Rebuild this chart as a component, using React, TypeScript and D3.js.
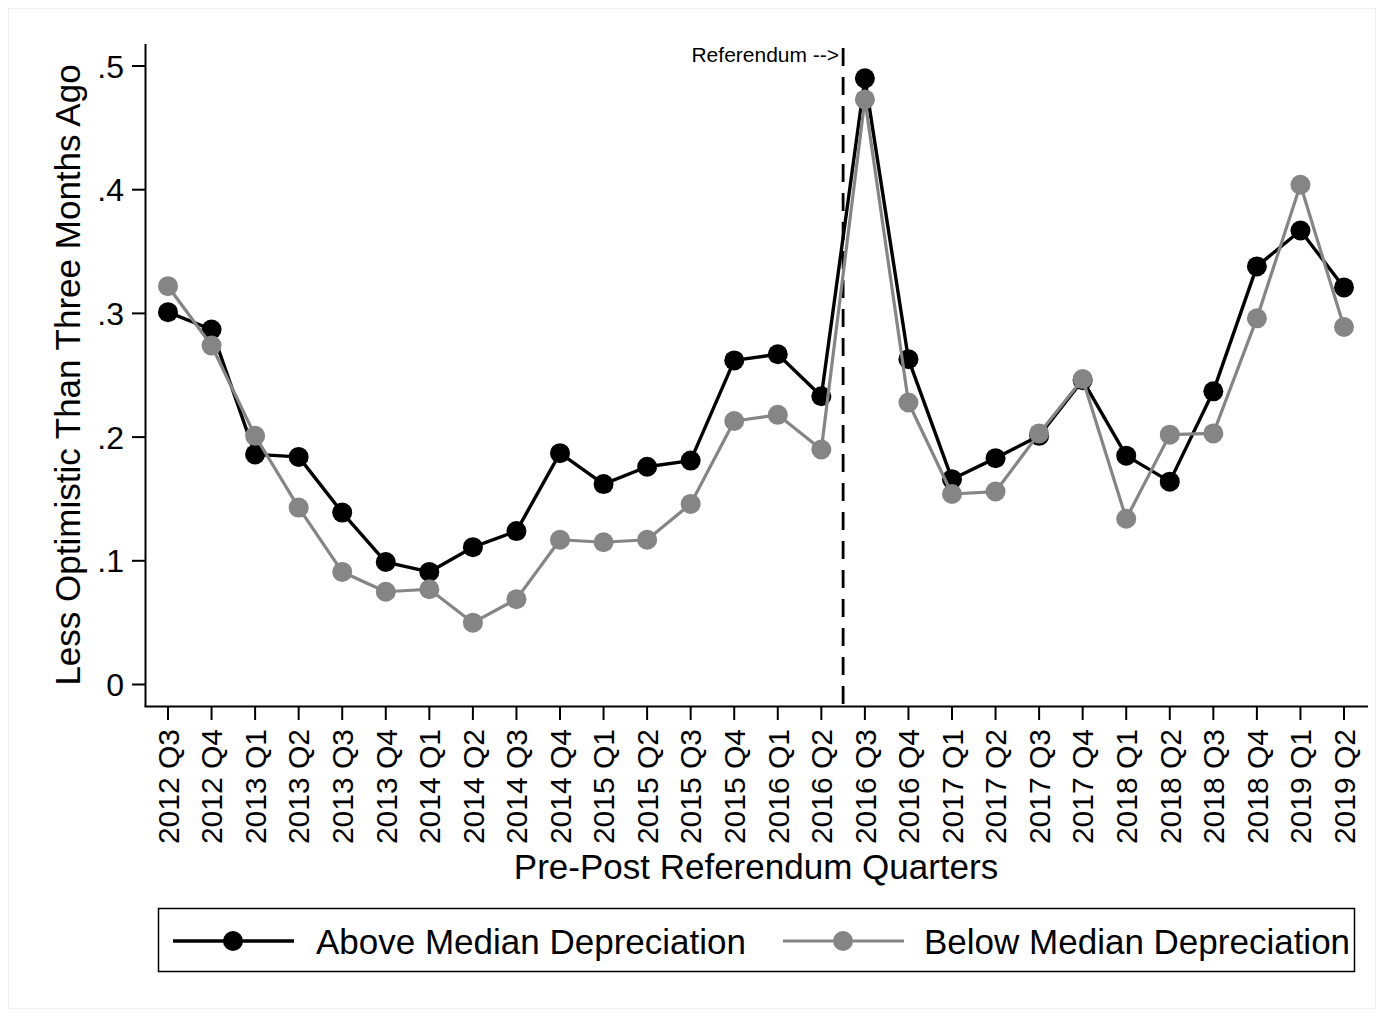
import React from "react";
import * as d3 from "d3";

const quarters: string[] = [
  "2012 Q3", "2012 Q4", "2013 Q1", "2013 Q2", "2013 Q3", "2013 Q4", "2014 Q1",
  "2014 Q2", "2014 Q3", "2014 Q4", "2015 Q1", "2015 Q2", "2015 Q3", "2015 Q4",
  "2016 Q1", "2016 Q2", "2016 Q3", "2016 Q4", "2017 Q1", "2017 Q2", "2017 Q3",
  "2017 Q4", "2018 Q1", "2018 Q2", "2018 Q3", "2018 Q4", "2019 Q1", "2019 Q2",
];

const aboveMedian: number[] = [
  0.301, 0.287, 0.186, 0.184, 0.139, 0.099, 0.091, 0.111, 0.124, 0.187,
  0.162, 0.176, 0.181, 0.262, 0.267, 0.233, 0.490, 0.263, 0.166, 0.183,
  0.201, 0.246, 0.185, 0.164, 0.237, 0.338, 0.367, 0.321,
];

const belowMedian: number[] = [
  0.322, 0.274, 0.201, 0.143, 0.091, 0.075, 0.077, 0.050, 0.069, 0.117,
  0.115, 0.117, 0.146, 0.213, 0.218, 0.190, 0.473, 0.228, 0.154, 0.156,
  0.203, 0.247, 0.134, 0.202, 0.203, 0.296, 0.404, 0.289,
];

const yTicks: number[] = [0, 0.1, 0.2, 0.3, 0.4, 0.5];
const yTickLabels: string[] = ["0", ".1", ".2", ".3", ".4", ".5"];

const seriesNames: string[] = ["Above Median Depreciation", "Below Median Depreciation"];
const referendumLabel = "Referendum -->";
const referendumAfter = "2016 Q2";
const yTitle = "Less Optimistic Than Three Months Ago";
const xTitle = "Pre-Post Referendum Quarters";

const FONT = "'Liberation Sans', Arial, Helvetica, sans-serif";
const BLACK = "#000000";
const GRAY = "#858585";

export default function App() {
  const axisX = 145.5;
  const axisY = 706.5;
  const x = d3.scalePoint<string>().domain(quarters).range([168, 1344]);
  const y = d3.scaleLinear().domain([0, 0.5]).range([684.5, 66]);
  const step = x.step();
  const refX = (x(referendumAfter) as number) + step / 2;

  const line = d3
    .line<number>()
    .x((_, i) => x(quarters[i]) as number)
    .y((d) => y(d));

  const series = [
    { name: seriesNames[0], values: aboveMedian, color: BLACK, width: 3.4 },
    { name: seriesNames[1], values: belowMedian, color: GRAY, width: 3.2 },
  ];

  return (
    <svg
      width={1384}
      height={1017}
      style={{ position: "absolute", left: 0, top: 0, background: "#fff" }}
      fontFamily={FONT}
    >
      <rect x={0} y={0} width={1384} height={1017} fill="#fff" />
      <rect x={8.5} y={8.5} width={1367} height={1000} fill="none" stroke="#f0f0f0" strokeWidth={1} />

      {/* y axis */}
      <line x1={axisX} x2={axisX} y1={44} y2={axisY} stroke="#000" strokeWidth={2} />
      {yTicks.map((t, i) => (
        <g key={"yt" + i}>
          <line x1={132} x2={axisX} y1={y(t)} y2={y(t)} stroke="#000" strokeWidth={2} />
          <text x={124} y={y(t)} dy="0.36em" textAnchor="end" fontSize={32} fill="#000">
            {yTickLabels[i]}
          </text>
        </g>
      ))}
      <text
        transform={`translate(80,${375}) rotate(-90)`}
        textAnchor="middle"
        fontSize={35}
        fill="#000"
      >
        {yTitle}
      </text>

      {/* x axis */}
      <line x1={axisX - 1} x2={1368} y1={axisY} y2={axisY} stroke="#000" strokeWidth={2} />
      {quarters.map((q) => (
        <g key={q}>
          <line x1={x(q)} x2={x(q)} y1={axisY} y2={720} stroke="#000" strokeWidth={2} />
          <text
            transform={`translate(${x(q)},729) rotate(-90)`}
            dy="0.36em"
            textAnchor="end"
            fontSize={30}
            fill="#000"
          >
            {q}
          </text>
        </g>
      ))}
      <text x={756} y={879} textAnchor="middle" fontSize={35} fill="#000">
        {xTitle}
      </text>

      {/* referendum line */}
      <line
        x1={refX}
        x2={refX}
        y1={48}
        y2={axisY}
        stroke="#000"
        strokeWidth={2.8}
        strokeDasharray="18 11"
      />
      <text x={refX - 4} y={62} textAnchor="end" fontSize={21} fill="#000">
        {referendumLabel}
      </text>

      {/* series */}
      {series.map((s) => (
        <g key={s.name}>
          <path d={line(s.values) || ""} fill="none" stroke={s.color} strokeWidth={s.width} strokeLinejoin="round" />
          {s.values.map((v, i) => (
            <circle key={i} cx={x(quarters[i])} cy={y(v)} r={10} fill={s.color} />
          ))}
        </g>
      ))}

      {/* legend */}
      <rect x={158.5} y={908.5} width={1196} height={63} fill="#fff" stroke="#000" strokeWidth={1.5} />
      {series.map((s, i) => {
        const lx = i === 0 ? 173 : 783;
        const tx = i === 0 ? 316 : 924;
        return (
          <g key={"lg" + i}>
            <line x1={lx} x2={lx + 121} y1={941} y2={941} stroke={s.color} strokeWidth={s.width} />
            <circle cx={lx + 60} cy={941} r={10} fill={s.color} />
            <text x={tx} y={954} fontSize={35} fill="#000">
              {s.name}
            </text>
          </g>
        );
      })}
    </svg>
  );
}
